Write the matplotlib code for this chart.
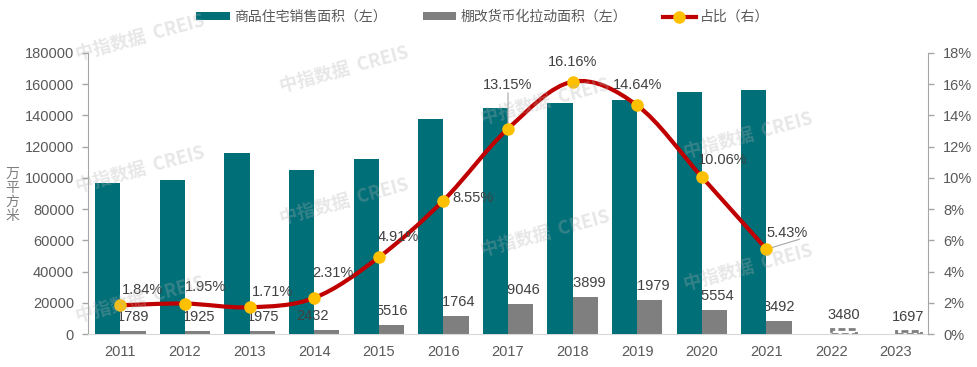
import numpy as np
import matplotlib
matplotlib.use("Agg")
import matplotlib.pyplot as plt
from matplotlib.path import Path
from matplotlib.patches import PathPatch, Patch
from matplotlib.lines import Line2D

plt.rcParams['font.family'] = ['Liberation Sans', 'Noto Sans CJK SC', 'DejaVu Sans']

# data
years = ['2011', '2012', '2013', '2014', '2015', '2016', '2017',
         '2018', '2019', '2020', '2021', '2022', '2023']
sales = [96528, 98468, 115723, 105188, 112412, 137540, 144789,
         147929, 150144, 154878, 156532]          # 商品住宅销售面积, 2011-2021
shed = [1789, 1925, 1975, 2432, 5516, 11764, 19046,
        23899, 21979, 15554, 8492, 3480, 1697]   # 棚改货币化拉动面积
ratio = [1.84, 1.95, 1.71, 2.31, 4.91, 8.55, 13.15,
         16.16, 14.64, 10.06, 5.43]               # 占比 %

teal = '#006F78'
grey = '#7F7F7F'
red = '#C00000'
gold = '#FFC000'
txt = '#404040'
axc = '#595959'

fig = plt.figure(figsize=(9.78, 3.67), dpi=100)
ax = fig.add_axes([88/978, 1-334/367, 840/978, 281/367])
ax2 = ax.twinx()

x = np.arange(len(years))
w = 0.39
n = len(sales)

ax.bar(x[:n] - w/2, sales, w, color=teal, zorder=3)
ax.bar(x[:n] + w/2, shed[:n], w, color=grey, zorder=2)
ax.bar(x[n:] + w/2, shed[n:], w, facecolor='white', edgecolor=grey,
       linewidth=2, linestyle=(0, (2.5, 1.2)), zorder=2)

# bar labels (mostly drawn under the teal bars, like the original)
lab_dx = [0, 2, 1, -14, 0, 0, 0, 0, 0, 0, 0, 0, 0]
for i, v in enumerate(shed):
    ax.annotate(str(v), (x[i] + w/2, v), xytext=(lab_dx[i], 14),
                textcoords='offset pixels', ha='center', va='center',
                fontsize=10.5, color=txt, zorder=4 if i == 3 else 1)

ax.set_xlim(-0.5, len(years) - 0.5)
ax.set_ylim(0, 180000)
ax.set_yticks(np.arange(0, 180001, 20000))
ax.set_xticks(x)
ax.set_xticklabels(years)
ax2.set_ylim(0, 18)
ax2.set_yticks(np.arange(0, 19, 2))
ax2.set_yticklabels([f'{v}%' for v in range(0, 19, 2)])

for a in (ax, ax2):
    a.spines['top'].set_visible(False)
    a.spines['left'].set_color('#A6A6A6')
    a.spines['right'].set_color('#A6A6A6')
    a.spines['bottom'].set_color('#D9D9D9')
ax.spines['right'].set_visible(False)
ax2.spines['left'].set_visible(False)
ax2.spines['bottom'].set_visible(False)
ax.tick_params(axis='y', length=4, width=1, color='#A6A6A6', pad=6,
               labelsize=10.5, labelcolor=axc)
ax2.tick_params(axis='y', length=4, width=1, color='#A6A6A6', pad=7,
                labelsize=10.5, labelcolor=axc)
ax.tick_params(axis='x', length=0, pad=8, labelsize=10.5, labelcolor=axc)

# smoothed ratio line (Catmull-Rom -> cubic bezier, like Excel smoothing)
px = x[:n].astype(float)
py = np.array(ratio, dtype=float)
pts = np.column_stack([px, py])
ext = np.vstack([pts[0], pts, pts[-1]])
verts = [tuple(pts[0])]
codes = [Path.MOVETO]
for i in range(1, len(ext) - 2):
    p0, p1, p2, p3 = ext[i-1], ext[i], ext[i+1], ext[i+2]
    c1 = p1 + (p2 - p0) / 6
    c2 = p2 - (p3 - p1) / 6
    verts += [tuple(c1), tuple(c2), tuple(p2)]
    codes += [Path.CURVE4] * 3
ax2.add_patch(PathPatch(Path(verts, codes), facecolor='none', edgecolor=red,
                        linewidth=3, zorder=4, capstyle='round'))
ax2.plot(px, py, linestyle='none', marker='o', markersize=8,
         markerfacecolor=gold, markeredgecolor=gold, zorder=5)

# percent labels, offsets in pixels from the point
pct_off = [(22, 15), (21, 17), (23, 15), (19, 25), (19, 20), (30, 3),
           (0, 44), (0, 20), (0, 20), (21, 17), (21, 16)]
for i, v in enumerate(ratio):
    ax2.annotate(f'{v:.2f}%', (px[i], v), xytext=pct_off[i],
                 textcoords='offset pixels', ha='center', va='center',
                 fontsize=10.5, color=txt, zorder=6)
# leader lines
ax2.annotate('', (px[6], ratio[6]), xytext=(0, 36), textcoords='offset pixels',
             arrowprops=dict(arrowstyle='-', color='#A6A6A6', lw=0.8,
                             shrinkA=0, shrinkB=4), zorder=3)
ax2.annotate('', (px[10], ratio[10]), xytext=(33, 10), textcoords='offset pixels',
             arrowprops=dict(arrowstyle='-', color='#A6A6A6', lw=0.8,
                             shrinkA=0, shrinkB=4), zorder=3)

# y axis title, stacked characters
fig.text(12.5/978, 1-195/367, '万\n平\n方\n米', ha='center', va='center',
         fontsize=10, color='#7F7F7F', linespacing=1.0,
         family=['Noto Sans CJK SC', 'DejaVu Sans'])

# legend
handles = [Patch(facecolor=teal, edgecolor='none'),
           Patch(facecolor=grey, edgecolor='none'),
           Line2D([], [], color=red, lw=3, marker='o', markersize=8,
                  markerfacecolor=gold, markeredgecolor=gold)]
labels = ['商品住宅销售面积（左）', '棚改货币化拉动面积（左）', '占比（右）']
leg = fig.legend(handles, labels, loc='center', ncol=3,
                 bbox_to_anchor=(483/978, 1-17/367), frameon=False,
                 handlelength=2.4, handleheight=0.5, handletextpad=0.3,
                 columnspacing=2.6,
                 prop={'family': ['Noto Sans CJK SC', 'DejaVu Sans'], 'size': 10})
for t in leg.get_texts():
    t.set_color(axc)

# watermark "中指数据 CREIS" (only the ones lying fully inside the picture)
marks = [(140, 38), (344, 70), (545, 102), (748, 136),
         (140, 170), (344, 202), (545, 234), (748, 268), (140, 300)]
for cx, cy in marks:
    fig.text(cx/978, 1-cy/367, '中指数据  CREIS', ha='center', va='center',
             rotation=15, fontsize=13, fontweight='bold',
             color='#B0B0B0', alpha=0.3, zorder=10,
             family=['Noto Sans CJK SC', 'DejaVu Sans'])

fig.savefig('out.png', dpi=100)
